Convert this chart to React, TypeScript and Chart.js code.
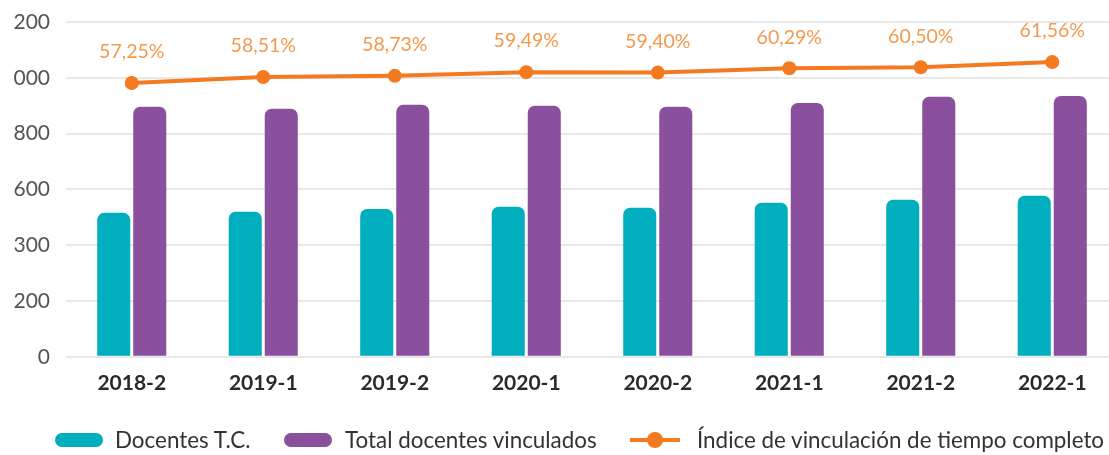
import React, { useEffect, useRef } from "react";
import { Chart, registerables } from "chart.js";

Chart.register(...registerables);

const categories = ["2018-2", "2019-1", "2019-2", "2020-1", "2020-2", "2021-1", "2021-2", "2022-1"];
const docentesTC = [516, 520, 530, 538, 534, 552, 563, 577];
const totalDocentes = [896, 889, 903, 900, 896, 910, 932, 935];
const indice = [57.25, 58.51, 58.73, 59.49, 59.4, 60.29, 60.5, 61.56];
const indiceLabels = ["57,25%", "58,51%", "58,73%", "59,49%", "59,40%", "60,29%", "60,50%", "61,56%"];
const yTickValues = [0, 200, 400, 600, 800, 1000, 1200];
const yTickLabels = ["0", "200", "300", "600", "800", "000", "200"];

const TEAL = "#00AEBE";
const PURPLE = "#8A4F9D";
const ORANGE = "#F47A20";
const LABEL_ORANGE = "#F39A4E";
const FONT = "Lato, 'Open Sans', sans-serif";

const pointLabelPlugin = {
  id: "pointLabels",
  afterDatasetsDraw(chart: any) {
    const ctx = chart.ctx;
    const meta = chart.getDatasetMeta(2);
    ctx.save();
    ctx.fillStyle = LABEL_ORANGE;
    ctx.font = `19.5px ${FONT}`;
    ctx.textAlign = "center";
    ctx.textBaseline = "middle";
    meta.data.forEach((pt: any, i: number) => {
      ctx.fillText(indiceLabels[i], pt.x, pt.y - 31);
    });
    ctx.restore();
  },
};

export default function App() {
  const ref = useRef<HTMLCanvasElement>(null);

  useEffect(() => {
    if (!ref.current) return;
    const chart = new Chart(ref.current, {
      type: "bar",
      data: {
        labels: categories,
        datasets: [
          {
            type: "bar",
            label: "Docentes T.C.",
            data: docentesTC,
            backgroundColor: TEAL,
            borderRadius: { topLeft: 7, topRight: 7, bottomLeft: 0, bottomRight: 0 },
            borderSkipped: false,
            barPercentage: 0.917,
            categoryPercentage: 0.548,
            yAxisID: "y",
            order: 2,
          },
          {
            type: "bar",
            label: "Total docentes vinculados",
            data: totalDocentes,
            backgroundColor: PURPLE,
            borderRadius: { topLeft: 7, topRight: 7, bottomLeft: 0, bottomRight: 0 },
            borderSkipped: false,
            barPercentage: 0.917,
            categoryPercentage: 0.548,
            yAxisID: "y",
            order: 2,
          },
          {
            type: "line",
            label: "Índice de vinculación de tiempo completo",
            data: indice,
            borderColor: ORANGE,
            backgroundColor: ORANGE,
            borderWidth: 4,
            pointRadius: 7,
            pointBackgroundColor: ORANGE,
            pointBorderWidth: 0,
            yAxisID: "y1",
            order: 1,
          } as any,
        ],
      },
      options: {
        responsive: false,
        animation: false,
        layout: { autoPadding: false, padding: { top: 22, bottom: 45, left: 0, right: 0 } },
        plugins: {
          legend: { display: false },
          tooltip: { enabled: false },
        },
        scales: {
          x: {
            grid: { display: false, drawTicks: false },
            border: { display: false },
            ticks: {
              padding: 14,
              color: "#2a2a2a",
              font: { family: FONT, size: 21, weight: "bold" },
            },
          },
          y: {
            min: 0,
            max: 1200,
            afterBuildTicks(scale: any) {
              scale.ticks = yTickValues.map((v) => ({ value: v }));
            },
            afterFit(scale: any) {
              scale.width = 66;
              scale.paddingTop = 0;
              scale.paddingBottom = 0;
            },
            grid: { color: "#E8E8E8", lineWidth: 2, drawTicks: false },
            border: { display: false },
            ticks: {
              padding: 16,
              color: "#555",
              font: { family: FONT, size: 21 },
              callback: (_v: any, i: number) => yTickLabels[i],
            },
          },
          y1: {
            display: false,
            min: 1,
            max: 69.8,
          },
        },
      },
      plugins: [pointLabelPlugin],
    });
    return () => chart.destroy();
  }, []);

  const legendText: React.CSSProperties = {
    fontFamily: FONT,
    fontSize: 22.4,
    lineHeight: "26px",
    color: "#333",
    whiteSpace: "nowrap",
  };

  return (
    <div
      style={{
        position: "fixed",
        left: 0,
        top: 0,
        width: 1109,
        height: 455,
        overflow: "hidden",
        background: "#fff",
      }}
    >
      <canvas ref={ref} width={1118} height={455} style={{ display: "block" }} />
      <div style={{ position: "absolute", left: 0, top: 427, height: 26, width: 1109 }}>
        <div style={{ position: "absolute", left: 55, top: 6, width: 48, height: 14, borderRadius: 7, background: TEAL }} />
        <span style={{ ...legendText, position: "absolute", left: 115, top: 0 }}>Docentes T.C.</span>
        <div style={{ position: "absolute", left: 284, top: 6, width: 48, height: 14, borderRadius: 7, background: PURPLE }} />
        <span style={{ ...legendText, position: "absolute", left: 345, top: 0 }}>Total docentes vinculados</span>
        <div style={{ position: "absolute", left: 630, top: 11, width: 50, height: 4, background: ORANGE }} />
        <div style={{ position: "absolute", left: 647, top: 5, width: 16, height: 16, borderRadius: 8, background: ORANGE }} />
        <span style={{ ...legendText, position: "absolute", left: 697, top: 0 }}>Índice de vinculación de tiempo completo</span>
      </div>
    </div>
  );
}
